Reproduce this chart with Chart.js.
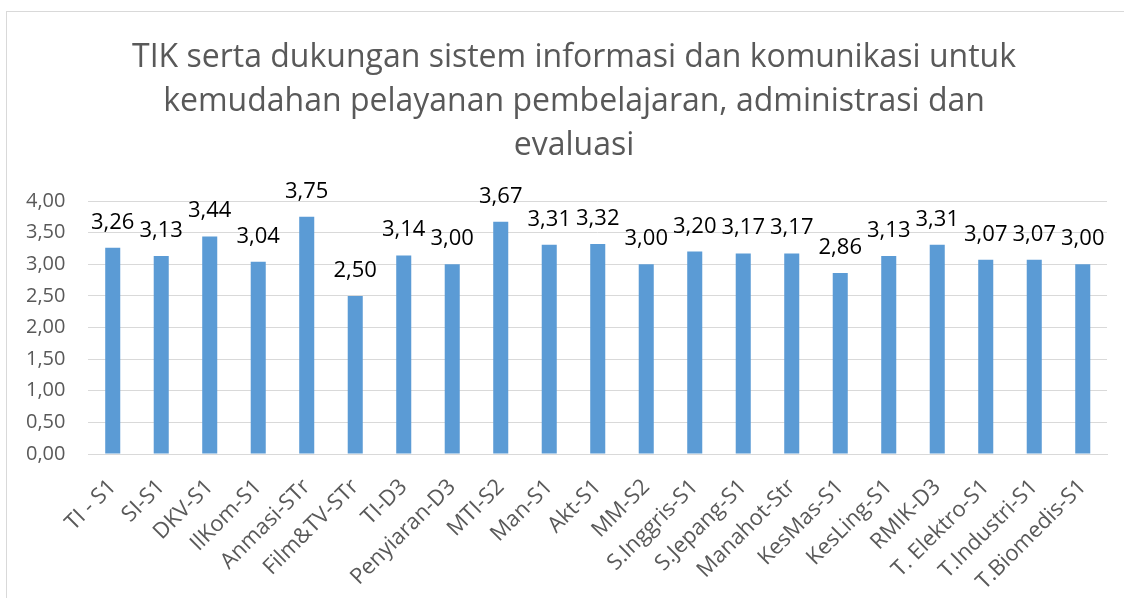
<!DOCTYPE html>
<html>
<head>
<meta charset="utf-8">
<script src="https://cdn.jsdelivr.net/npm/chart.js@4.4.0/dist/chart.umd.min.js"></script>
<style>
  html, body { margin: 0; padding: 0; background: #fff; }
</style>
</head>
<body>
<canvas id="grafikTIK" width="1124" height="598"></canvas>
<script>
// data dari grafik
const kategori = ['TI - S1', 'SI-S1', 'DKV-S1', 'IlKom-S1', 'Anmasi-STr', 'Film&TV-STr', 'TI-D3',
  'Penyiaran-D3', 'MTI-S2', 'Man-S1', 'Akt-S1', 'MM-S2', 'S.Inggris-S1', 'S.Jepang-S1',
  'Manahot-Str', 'KesMas-S1', 'KesLing-S1', 'RMIK-D3', 'T. Elektro-S1', 'T.Industri-S1', 'T.Biomedis-S1'];
const nilai = [3.26, 3.13, 3.44, 3.04, 3.75, 2.50, 3.14, 3.00, 3.67, 3.31, 3.32, 3.00, 3.20, 3.17,
  3.17, 2.86, 3.13, 3.31, 3.07, 3.07, 3.00];
const tickY = [0, 0.5, 1, 1.5, 2, 2.5, 3, 3.5, 4];
const judul = [
  'TIK serta dukungan sistem informasi dan komunikasi untuk',
  'kemudahan pelayanan pembelajaran, administrasi dan',
  'evaluasi'
];

const FONT = "'Open Sans', sans-serif";
const formatKoma = (v) => Number(v).toFixed(2).replace('.', ',');

// bingkai abu-abu tipis + latar putih + judul
const bingkai = {
  id: 'bingkai',
  beforeDraw(chart) {
    const c = chart.ctx;
    c.save();
    c.fillStyle = '#ffffff';
    c.fillRect(0, 0, chart.width, chart.height);
    c.strokeStyle = '#d9d9d9';
    c.lineWidth = 1;
    c.strokeRect(6.5, 11.5, chart.width + 10, chart.height + 10);

    // judul 3 baris
    c.font = `32px ${FONT}`;
    c.fillStyle = '#595959';
    c.textAlign = 'center';
    c.textBaseline = 'alphabetic';
    judul.forEach((baris, i) => c.fillText(baris, 574, 67 + i * 44));
    c.restore();
  }
};

// label nilai di atas batang
const labelNilai = {
  id: 'labelNilai',
  afterDatasetsDraw(chart) {
    const c = chart.ctx;
    const meta = chart.getDatasetMeta(0);
    c.save();
    c.font = `22px ${FONT}`;
    c.fillStyle = '#000000';
    c.textAlign = 'center';
    c.textBaseline = 'alphabetic';
    meta.data.forEach((bar, i) => {
      c.fillText(formatKoma(nilai[i]), bar.x, bar.y - 19);
    });
    c.restore();
  }
};

const ctx = document.getElementById('grafikTIK').getContext('2d');

new Chart(ctx, {
  type: 'bar',
  data: {
    labels: kategori,
    datasets: [{
      data: nilai,
      backgroundColor: '#5b9bd5',
      barPercentage: 0.31,
      categoryPercentage: 1
    }]
  },
  options: {
    responsive: false,
    animation: false,
    devicePixelRatio: 1,
    layout: { padding: { top: 201, left: 3, right: 17, bottom: 4 } },
    plugins: {
      legend: { display: false },
      tooltip: { enabled: false },
      title: { display: false }
    },
    scales: {
      y: {
        min: 0,
        max: 4,
        afterBuildTicks: (scale) => { scale.ticks = tickY.map(v => ({ value: v })); },
        ticks: {
          callback: (value) => formatKoma(value),
          color: '#595959',
          font: { family: FONT, size: 20 },
          padding: 23
        },
        grid: { color: '#d9d9d9', drawTicks: false },
        border: { display: false }
      },
      x: {
        // label miring jangan menggeser area plot; tinggi sumbu dikunci
        afterFit: (scale) => { scale.paddingLeft = 0; scale.paddingRight = 0; scale.height = 140; },
        ticks: {
          color: '#595959',
          font: { family: FONT, size: 22 },
          minRotation: 45,
          maxRotation: 45,
          autoSkip: false,
          padding: 20
        },
        grid: { display: false, drawTicks: false },
        border: { color: '#d9d9d9', width: 1 }
      }
    }
  },
  plugins: [bingkai, labelNilai]
});
</script>
</body>
</html>
